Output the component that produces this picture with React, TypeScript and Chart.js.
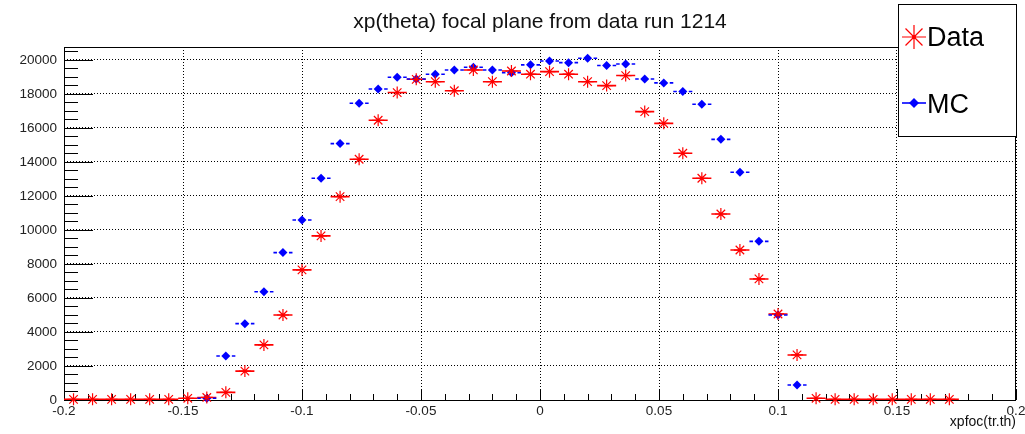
import React, { useEffect, useRef } from 'react';
import { Chart, registerables } from 'chart.js';

Chart.register(...registerables);

// ---- data ----
const titleText = 'xp(theta) focal plane from data run 1214';
const xAxisTitle = 'xpfoc(tr.th)';
const seriesLabels = ['Data', 'MC'];

const binCenters = [
  -0.196, -0.188, -0.18, -0.172, -0.164, -0.156, -0.148, -0.14, -0.132, -0.124,
  -0.116, -0.108, -0.1, -0.092, -0.084, -0.076, -0.068, -0.06, -0.052, -0.044,
  -0.036, -0.028, -0.02, -0.012, -0.004, 0.004, 0.012, 0.02, 0.028, 0.036,
  0.044, 0.052, 0.06, 0.068, 0.076, 0.084, 0.092, 0.1, 0.108, 0.116,
  0.124, 0.132, 0.14, 0.148, 0.156, 0.164, 0.172, 0.18, 0.188, 0.196,
];
const binHalfWidth = 0.004;

const dataCounts: (number | null)[] = [
  40, 40, 40, 40, 40, 40, 100, 150, 450, 1700,
  3240, 5000, 7650, 9650, 11960, 14160, 16450, 18080, 18860, 18720,
  18190, 19410, 18720, 19350, 19160, 19310, 19160, 18720, 18490, 19080,
  16960, 16270, 14510, 13040, 10940, 8820, 7120, 5060, 2650, 100,
  40, 40, 40, 40, 40, 40, 40, null, null, null,
];

const mcCounts: (number | null)[] = [
  null, null, null, null, null, null, null, 100, 2590, 4490,
  6370, 8670, 10590, 13040, 15080, 17450, 18290, 18980, 18880, 19160,
  19410, 19570, 19410, 19250, 19710, 19940, 19840, 20100, 19670, 19760,
  18880, 18650, 18140, 17390, 15330, 13390, 9330, 5000, 880, null,
  null, null, null, null, null, null, null, null, null, null,
];

const xTickValues = [-0.2, -0.15, -0.1, -0.05, 0, 0.05, 0.1, 0.15, 0.2];
const xTickLabels = ['-0.2', '-0.15', '-0.1', '-0.05', '0', '0.05', '0.1', '0.15', '0.2'];
const yTickValues = [0, 2000, 4000, 6000, 8000, 10000, 12000, 14000, 16000, 18000, 20000];
const yTickLabels = ['0', '2000', '4000', '6000', '8000', '10000', '12000', '14000', '16000', '18000', '20000'];

const xMin = -0.2;
const xMax = 0.2;
const xStep = 0.05;
const xMinorStep = 0.01;
const yMin = 0;
const yMax = 20760;
const yStep = 2000;
const yMinorStep = 500;

const FONT = '"Liberation Sans", Arial, Helvetica, sans-serif';

const toPoints = (vals: (number | null)[]) =>
  binCenters
    .map((x, i) => ({ x, y: vals[i] }))
    .filter((p) => p.y !== null) as { x: number; y: number }[];

const framePlugin = {
  id: 'rootFrame',
  beforeDatasetsDraw(chart: any) {
    const { ctx, chartArea } = chart;
    const xs = chart.scales.x;
    const ys = chart.scales.y;
    const { left, right, top, bottom } = chartArea;
    ctx.save();
    ctx.strokeStyle = '#000';
    ctx.lineWidth = 1;
    ctx.setLineDash([]);
    ctx.beginPath();
    ctx.rect(left + 0.5, top + 0.5, right - left - 1, bottom - top);
    ctx.stroke();
    // y ticks
    ctx.beginPath();
    for (let v = yMin; v <= yMax + 1e-6; v += yMinorStep) {
      const py = Math.round(ys.getPixelForValue(v)) + 0.5;
      const major = Math.abs(v % yStep) < 1e-6;
      const len = major ? 29 : 14;
      ctx.moveTo(left, py);
      ctx.lineTo(left + len, py);
    }
    // x ticks
    const n = Math.round((xMax - xMin) / xMinorStep);
    for (let i = 0; i <= n; i++) {
      const v = xMin + i * xMinorStep;
      const px = Math.round(xs.getPixelForValue(v)) + 0.5;
      const major = i % Math.round(xStep / xMinorStep) === 0;
      const len = major ? 11 : 6;
      ctx.moveTo(px, bottom);
      ctx.lineTo(px, bottom - len);
    }
    ctx.stroke();
    ctx.restore();

    // horizontal error bars (bin widths)
    const xsc = chart.scales.x;
    chart.data.datasets.forEach((ds: any, di: number) => {
      const meta = chart.getDatasetMeta(di);
      ctx.save();
      ctx.strokeStyle = ds.borderColor;
      ctx.lineWidth = 1.6;
      ctx.beginPath();
      meta.data.forEach((el: any, i: number) => {
        const p = ds.data[i];
        const x0 = xsc.getPixelForValue(p.x - binHalfWidth);
        const x1 = xsc.getPixelForValue(p.x + binHalfWidth);
        const y = el.y;
        if (ds.barGap) {
          ctx.moveTo(x0, y);
          ctx.lineTo(el.x - ds.barGap, y);
          ctx.moveTo(el.x + ds.barGap, y);
          ctx.lineTo(x1, y);
        } else {
          ctx.moveTo(x0, y);
          ctx.lineTo(x1, y);
        }
      });
      ctx.stroke();
      ctx.restore();
    });
  },
  afterDraw(chart: any) {
    const { ctx, chartArea } = chart;
    ctx.save();
    // title
    ctx.fillStyle = '#111';
    ctx.font = `21px ${FONT}`;
    ctx.textAlign = 'center';
    ctx.textBaseline = 'alphabetic';
    ctx.fillText(titleText, (chartArea.left + chartArea.right) / 2, 28);
    // x-axis title
    ctx.font = `14px ${FONT}`;
    ctx.textAlign = 'right';
    ctx.fillText(xAxisTitle, chartArea.right, 426);

    // legend box
    const bx = 898, by = 4, bw = 118, bh = 132;
    ctx.fillStyle = '#fff';
    ctx.fillRect(bx, by, bw, bh);
    ctx.strokeStyle = '#000';
    ctx.lineWidth = 1;
    ctx.strokeRect(bx + 0.5, by + 0.5, bw, bh);

    const ds0 = chart.data.datasets[0];
    const ds1 = chart.data.datasets[1];
    // Data marker: asterisk
    const cx = 914, cy1 = 37, r = 12;
    ctx.strokeStyle = ds0.borderColor;
    ctx.lineWidth = 1.2;
    ctx.beginPath();
    for (let k = 0; k < 4; k++) {
      const a = (k * Math.PI) / 4;
      ctx.moveTo(cx - r * Math.cos(a), cy1 - r * Math.sin(a));
      ctx.lineTo(cx + r * Math.cos(a), cy1 + r * Math.sin(a));
    }
    ctx.stroke();
    ctx.fillStyle = ds0.borderColor;
    ctx.beginPath();
    ctx.arc(cx, cy1, 2, 0, Math.PI * 2);
    ctx.fill();
    // MC marker: line + diamond
    const cy2 = 103;
    ctx.strokeStyle = ds1.borderColor;
    ctx.lineWidth = 1.6;
    ctx.beginPath();
    ctx.moveTo(902, cy2);
    ctx.lineTo(926, cy2);
    ctx.stroke();
    ctx.fillStyle = ds1.backgroundColor;
    ctx.beginPath();
    ctx.moveTo(cx, cy2 - 5);
    ctx.lineTo(cx + 5, cy2);
    ctx.lineTo(cx, cy2 + 5);
    ctx.lineTo(cx - 5, cy2);
    ctx.closePath();
    ctx.fill();

    ctx.fillStyle = '#000';
    ctx.font = `27px ${FONT}`;
    ctx.textAlign = 'left';
    ctx.fillText(ds0.label, 927, 46);
    ctx.fillText(ds1.label, 927, 113);
    ctx.restore();
  },
};

export default function App() {
  const ref = useRef<HTMLCanvasElement | null>(null);
  useEffect(() => {
    if (!ref.current) return;
    const chart = new Chart(ref.current, {
      type: 'scatter',
      data: {
        datasets: [
          {
            label: seriesLabels[0],
            data: toPoints(dataCounts),
            borderColor: '#ff0000',
            backgroundColor: '#ff0000',
            pointStyle: 'star',
            pointRadius: 6,
            pointBorderWidth: 1.2,
            showLine: false,
            clip: false,
          } as any,
          {
            label: seriesLabels[1],
            data: toPoints(mcCounts),
            borderColor: '#0000ff',
            backgroundColor: '#0000ff',
            pointStyle: 'rectRot',
            pointRadius: 4.5,
            pointBorderWidth: 0,
            showLine: false,
            clip: false,
            barGap: 6,
          } as any,
        ],
      },
      options: {
        animation: false,
        responsive: false,
        devicePixelRatio: 1,
        layout: { padding: { left: 0, right: 9, top: 47, bottom: 0 } },
        plugins: {
          legend: { display: false },
          title: { display: false },
          tooltip: { enabled: false },
        },
        events: [],
        scales: {
          x: {
            type: 'linear',
            min: xMin,
            max: xMax,
            border: { display: false, dash: [1, 2] },
            grid: { color: '#000', lineWidth: 1, drawTicks: false },
            ticks: {
              padding: 3,
              color: '#222',
              font: { family: FONT, size: 13.5 },
              maxRotation: 0,
              autoSkip: false,
              callback: (_v: any, i: number) => xTickLabels[i],
            },
            afterBuildTicks: (s: any) => {
              s.ticks = xTickValues.map((value) => ({ value }));
            },
            afterFit: (s: any) => {
              s.height = 34;
              s.paddingLeft = 0;
              s.paddingRight = 0;
            },
          },
          y: {
            type: 'linear',
            min: yMin,
            max: yMax,
            border: { display: false, dash: [1, 2] },
            grid: { color: '#000', lineWidth: 1, drawTicks: false },
            ticks: {
              padding: 7,
              color: '#222',
              font: { family: FONT, size: 13.5 },
              autoSkip: false,
              callback: (_v: any, i: number) => yTickLabels[i],
            },
            afterBuildTicks: (s: any) => {
              s.ticks = yTickValues.map((value) => ({ value }));
            },
            afterFit: (s: any) => {
              s.width = 64;
              s.paddingTop = 0;
              s.paddingBottom = 0;
            },
          },
        },
      },
      plugins: [framePlugin],
    });
    return () => chart.destroy();
  }, []);
  return (
    <div style={{ position: 'absolute', left: 0, top: 0, width: 1025, height: 434, background: '#fff' }}>
      <canvas ref={ref} width={1025} height={434} style={{ display: 'block' }} />
    </div>
  );
}
